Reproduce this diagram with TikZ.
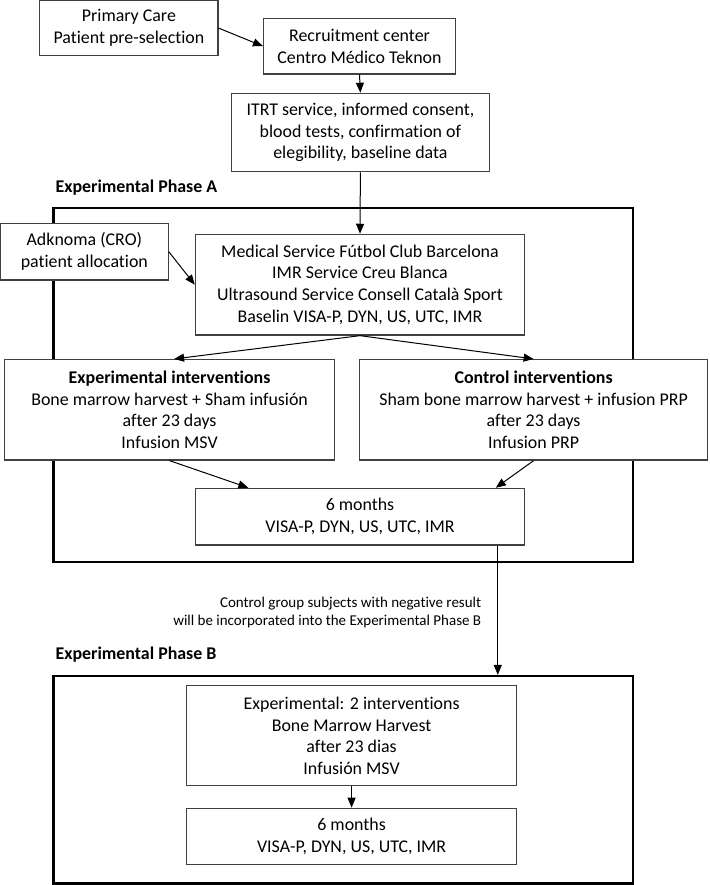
\documentclass[tikz,border=0pt]{standalone}
\usepackage{fontspec}
\setmainfont{Carlito}[Ligatures=NoCommon]
\usetikzlibrary{arrows.meta,calc}
\begin{document}
\begin{tikzpicture}[x=0.5pt,y=-0.5pt,
  box/.style={draw=black!75, line width=0.6pt, fill=white, align=center, inner sep=0pt, font=\fontsize{8.95}{10.85}\selectfont},
  frame/.style={draw=black, line width=1.1pt, inner sep=0pt},
  wh/.style 2 args={minimum width=#1*0.5pt, minimum height=#2*0.5pt},
  arr/.style={-{Triangle[length=5pt,width=4pt]}, line width=0.5pt, black},
  hdr/.style={anchor=west, inner sep=0pt, font=\fontsize{8.95}{10.85}\selectfont\bfseries},
  note/.style={anchor=east, align=right, inner sep=0pt, font=\fontsize{7.5}{9.2}\selectfont}]
\useasboundingbox (0,0) rectangle (709,885);
\node[frame, wh={579.6}{354}] (fA) at (343.2,385.3) {};
\node[frame, wh={579.6}{207.5}] (fB) at (343.2,779.75) {};
\node[box, wh={178.2}{55.2}] (b1) at (128.9,28.1) {Primary Care\\Patient pre-selection};
\node[box, wh={191.8}{55.7}] (b2) at (359.5,46.2) {Recruitment center\\Centro Médico Teknon};
\node[box, wh={257.8}{78.4}] (b3) at (360.4,132.5) {ITRT service, informed consent,\\blood tests, confirmation of\\elegibility, baseline data};
\node[hdr] (hA) at (55.2,188) {Experimental Phase A};
\node[box, wh={167.7}{56.7}] (adk) at (84.35,251.7) {Adknoma (CRO)\\patient allocation};
\node[box, wh={329.2}{100.7}] (med) at (360,284.7) {Medical Service Fútbol Club Barcelona\\IMR Service Creu Blanca\\Ultrasound Service Consell Català Sport\\Baselin VISA-P, DYN, US, UTC, IMR};
\node[box, wh={330.1}{100.5}] (exp) at (169.6,409.8) {\textbf{Experimental interventions}\\Bone marrow harvest + Sham infusión\\after 23 days\\Infusion MSV};
\node[box, wh={348.2}{100.5}] (ctl) at (533.6,409.8) {\textbf{Control interventions}\\Sham bone marrow harvest + infusion PRP\\after 23 days\\Infusion PRP};
\node[box, wh={329.2}{56.7}] (m6) at (360,516.7) {6 months\\VISA-P, DYN, US, UTC, IMR};
\node[note] (nt) at (481.6,612.5) {Control group subjects with negative result\\will be incorporated into the Experimental Phase B};
\node[hdr] (hB) at (55.2,655) {Experimental Phase B};
\node[box, wh={329.6}{100}] (c1) at (351.6,735.7) {Experimental: 2 interventions\\Bone Marrow Harvest\\after 23 dias\\Infusión MSV};
\node[box, wh={329.6}{56}] (c2) at (351.6,836.3) {6 months\\VISA-P, DYN, US, UTC, IMR};
\coordinate (m6x) at ($(m6.south west)!0.917!(m6.south east)$);
\draw[arr] (b1.east) -- (b2.west);
\draw[arr] (b2.south) -- (b3.north);
\draw[arr] (b3.south) -- (med.north);
\draw[arr] (adk.east) -- (med.west);
\draw[arr] (med.south) -- ($(exp.north)+(4.5,0)$);
\draw[arr] (med.south) -- (ctl.north);
\draw[arr] (exp.south) -- ($(m6.north west)!0.162!(m6.north east)$);
\draw[arr] (ctl.south) -- ($(m6.north west)!0.911!(m6.north east)$);
\draw[arr] (m6x) -- (m6x |- fB.north);
\draw[arr] (c1.south) -- (c2.north);
\end{tikzpicture}
\end{document}
